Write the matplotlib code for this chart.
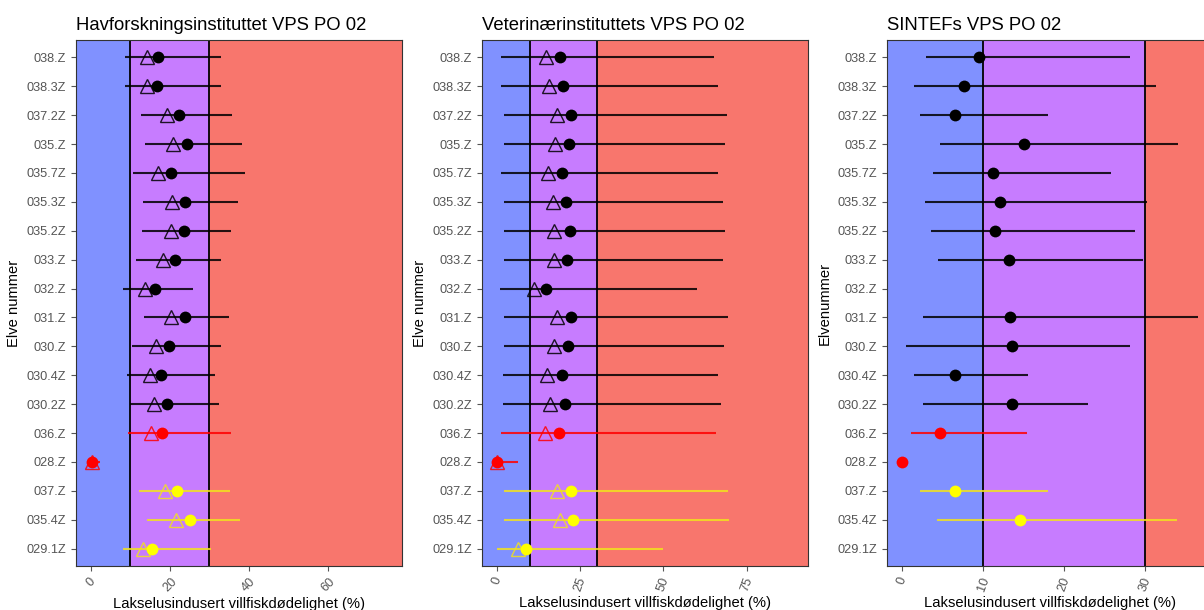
import matplotlib
matplotlib.use("Agg")
import matplotlib.pyplot as plt
import numpy as np

plt.rcParams['font.family'] = ['Liberation Sans', 'DejaVu Sans']

# elvene, ovenfra og ned
elver = ['038.Z', '038.3Z', '037.2Z', '035.Z', '035.7Z', '035.3Z', '035.2Z',
         '033.Z', '032.Z', '031.Z', '030.Z', '030.4Z', '030.2Z', '036.Z',
         '028.Z', '037.Z', '035.4Z', '029.1Z']
farger = ['black'] * 13 + ['red', 'red'] + ['yellow'] * 3

# Havforskningsinstituttet
hi_punkt = [17.1, 16.8, 22.4, 24.4, 20.2, 23.9, 23.6, 21.2, 16.3, 23.7, 19.7,
            17.8, 19.2, 18.1, 0.3, 21.8, 25.0, 15.6]
hi_trek = [14.1, 14.1, 19.2, 20.8, 17.1, 20.5, 20.2, 18.2, 13.6, 20.3, 16.6,
           15.0, 16.1, 15.2, 0.3, 18.7, 21.5, 13.1]
hi_lav = [8.7, 8.7, 12.7, 13.6, 10.8, 13.3, 13.0, 11.5, 8.2, 13.4, 10.5,
          9.2, 9.9, 9.5, 0.0, 12.3, 14.1, 8.1]
hi_hoy = [32.9, 33.0, 35.6, 38.2, 39.0, 37.1, 35.5, 32.9, 25.9, 34.8, 32.8,
          31.3, 32.4, 35.5, 2.3, 35.3, 37.8, 30.4]

# Veterinærinstituttet
vi_punkt = [18.9, 19.8, 22.3, 21.7, 19.5, 20.8, 22.0, 21.2, 14.9, 22.3, 21.5,
            19.6, 20.4, 18.7, 0.0, 22.2, 22.9, 8.7]
vi_trek = [14.7, 15.7, 18.1, 17.4, 15.5, 16.8, 17.3, 17.1, 11.1, 18.1, 17.2,
           15.1, 15.9, 14.5, 0.0, 18.0, 18.9, 6.4]
vi_lav = [1.4, 1.4, 2.1, 2.1, 1.2, 2.1, 2.1, 2.1, 1.0, 2.1, 2.1,
          1.9, 1.9, 1.2, 0.0, 2.1, 2.1, 0.2]
vi_hoy = [65.2, 66.5, 69.2, 68.5, 66.5, 67.8, 68.5, 67.8, 60.2, 69.3, 68.2,
          66.5, 67.2, 65.7, 6.4, 69.3, 69.6, 49.8]

# SINTEF (ingen trekanter)
si_punkt = [9.5, 7.6, 6.5, 15.0, 11.2, 12.1, 11.5, 13.2, np.nan, 13.3, 13.6,
            6.5, 13.6, 4.7, 0.0, 6.5, 14.6, np.nan]
si_lav = [2.9, 1.4, 2.2, 4.7, 3.8, 2.8, 3.5, 4.4, np.nan, 2.6, 0.4,
          1.4, 2.6, 1.1, np.nan, 2.2, 4.3, np.nan]
si_hoy = [28.2, 31.4, 18.0, 34.1, 25.8, 30.2, 28.8, 29.8, np.nan, 36.6, 28.1,
          15.5, 22.9, 15.4, np.nan, 18.0, 33.9, np.nan]

titler = ['Havforskningsinstituttet VPS PO 02', 'Veterinærinstituttets VPS PO 02',
          'SINTEFs VPS PO 02']
ylabels = ['Elve nummer', 'Elve nummer', 'Elvenummer']
xlims = [(-3.7, 78.6), (-4.4, 93.4), (-1.9, 38.4)]
xticks = [[0, 20, 40, 60], [0, 25, 50, 75], [0, 10, 20, 30]]
rot = [45, 70, 70]
venstre = [76, 482, 887]

data = [(hi_punkt, hi_trek, hi_lav, hi_hoy),
        (vi_punkt, vi_trek, vi_lav, vi_hoy),
        (si_punkt, None, si_lav, si_hoy)]

W, H = 1204, 610
fig = plt.figure(figsize=(W / 100, H / 100), dpi=100)

ypos = np.arange(len(elver))[::-1]

for i in range(3):
    ax = fig.add_axes([venstre[i] / W, 44 / H, 326 / W, 526 / H])
    punkt, trek, lav, hoy = data[i]
    x0, x1 = xlims[i]
    ax.axvspan(x0, 10, color='#8091FF', lw=0, zorder=0)
    ax.axvspan(10, 30, color='#C77CFF', lw=0, zorder=0)
    ax.axvspan(30, x1, color='#F8766D', lw=0, zorder=0)
    ax.axvline(10, color='black', lw=1.3, zorder=1)
    ax.axvline(30, color='black', lw=1.3, zorder=1)

    for j in range(len(elver)):
        c = farger[j]
        if c == 'yellow':
            lc = '#F2E21E'
        else:
            lc = c
        if not np.isnan(lav[j]):
            ax.hlines(ypos[j], lav[j], hoy[j], color=lc, lw=1.5, alpha=0.85, zorder=2)
        if trek is not None:
            ax.plot(trek[j], ypos[j], marker='^', ms=9.5, mfc='none', mec=lc,
                    mew=1.0, alpha=0.85, zorder=3)
        ax.plot(punkt[j], ypos[j], marker='o', ms=8.5, color=c, mec='none', zorder=4)

    ax.set_xlim(x0, x1)
    ax.set_ylim(-0.6, len(elver) - 0.4)
    ax.set_yticks(ypos)
    ax.set_yticklabels(elver)
    ax.set_xticks(xticks[i])
    ax.tick_params(axis='both', colors='#555555', labelsize=9.2, length=3.5)
    for lab in ax.get_xticklabels():
        lab.set_rotation(rot[i])
        lab.set_ha('center')
        lab.set_va('top')
    for sp in ax.spines.values():
        sp.set_color('#333333')
        sp.set_linewidth(0.8)
    ax.set_title(titler[i], loc='left', fontsize=13.3, pad=7)
    ax.set_xlabel('Lakselusindusert villfiskdødelighet (%)', fontsize=10.6, labelpad=2)
    ax.set_ylabel(ylabels[i], fontsize=10.6)

fig.savefig('out.png', dpi=100)
